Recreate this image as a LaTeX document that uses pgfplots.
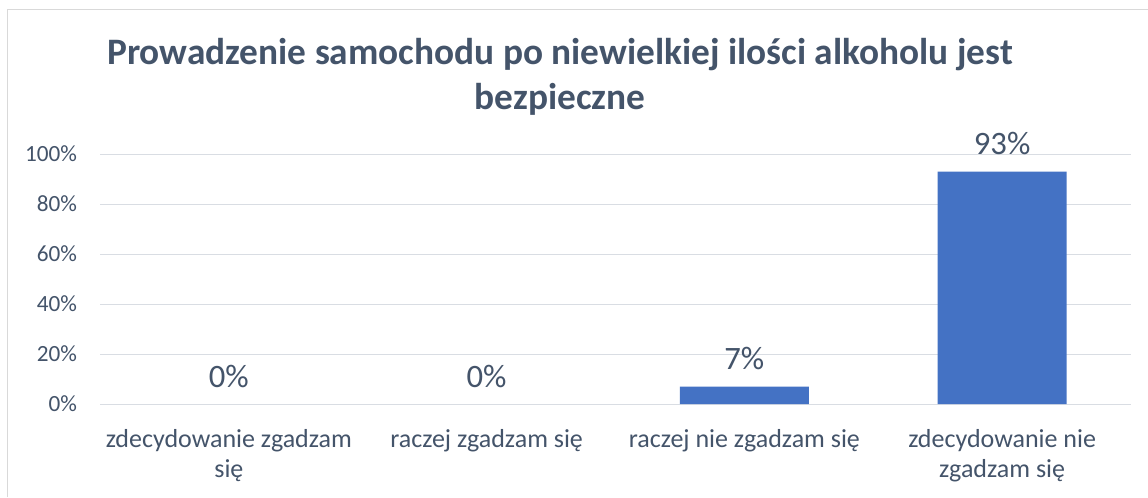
\documentclass[border=0pt]{standalone}
\usepackage{pgfplots}
\pgfplotsset{compat=1.18}
\usepackage{fontspec}
\setmainfont{Carlito}
\definecolor{txt}{HTML}{44546A}
\definecolor{gridc}{HTML}{D9DDE3}
\definecolor{barc}{HTML}{4472C4}
\definecolor{borderc}{HTML}{D9D9D9}
\begin{document}
\begin{tikzpicture}
\useasboundingbox (0,0) rectangle (861pt,372.75pt);
\fill[white] (0,0) rectangle (861pt,372.75pt);
\draw[borderc, line width=0.75pt] (5.25pt,0) -- (5.25pt,365.25pt) -- (861pt,365.25pt);
\node[anchor=base, text=txt, font=\fontsize{28}{34}\selectfont\bfseries, inner sep=0pt] at (420pt,324.5pt) {Prowadzenie samochodu po niewielkiej ilości alkoholu jest};
\node[anchor=base, text=txt, font=\fontsize{28}{34}\selectfont\bfseries, inner sep=0pt] at (420pt,290.5pt) {bezpieczne};
\begin{axis}[
  at={(75pt,69.75pt)}, anchor=south west,
  scale only axis, width=773.25pt, height=187.5pt,
  xmin=-0.5, xmax=3.5, ymin=0, ymax=100,
  axis line style={draw=none},
  major tick length=0pt,
  ymajorgrids, major grid style={color=gridc, line width=0.75pt},
  ytick={0,20,40,60,80,100},
  yticklabel={\pgfmathprintnumber{\tick}\%},
  /pgf/number format/assume math mode=true,
  yticklabel style={font=\fontsize{17.4}{21}\selectfont, text=txt, anchor=east, inner sep=0pt, xshift=-17pt},
  xtick={0,1,2,3},
  xticklabels={{zdecydowanie zgadzam\\się},{raczej zgadzam się},{raczej nie zgadzam się},{zdecydowanie nie\\zgadzam się}},
  xticklabel style={font=\fontsize{19.5}{22.5}\selectfont, text=txt, align=center, anchor=north, inner sep=0pt, yshift=-19pt},
  ybar, bar width=96.75pt,
  nodes near coords={\pgfmathprintnumber[assume math mode=true]{\pgfplotspointmeta}\%},
  nodes near coords style={font=\fontsize{24.5}{29}\selectfont, text=txt, anchor=south, inner sep=0pt, yshift=12pt},
  clip=false,
]
\addplot[fill=none, draw=none, bar shift=0pt] coordinates {(0,0) (1,0)};
\addplot[fill=barc, draw=none, bar shift=0pt] coordinates {(2,7) (3,93)};
\end{axis}
\end{tikzpicture}
\end{document}
